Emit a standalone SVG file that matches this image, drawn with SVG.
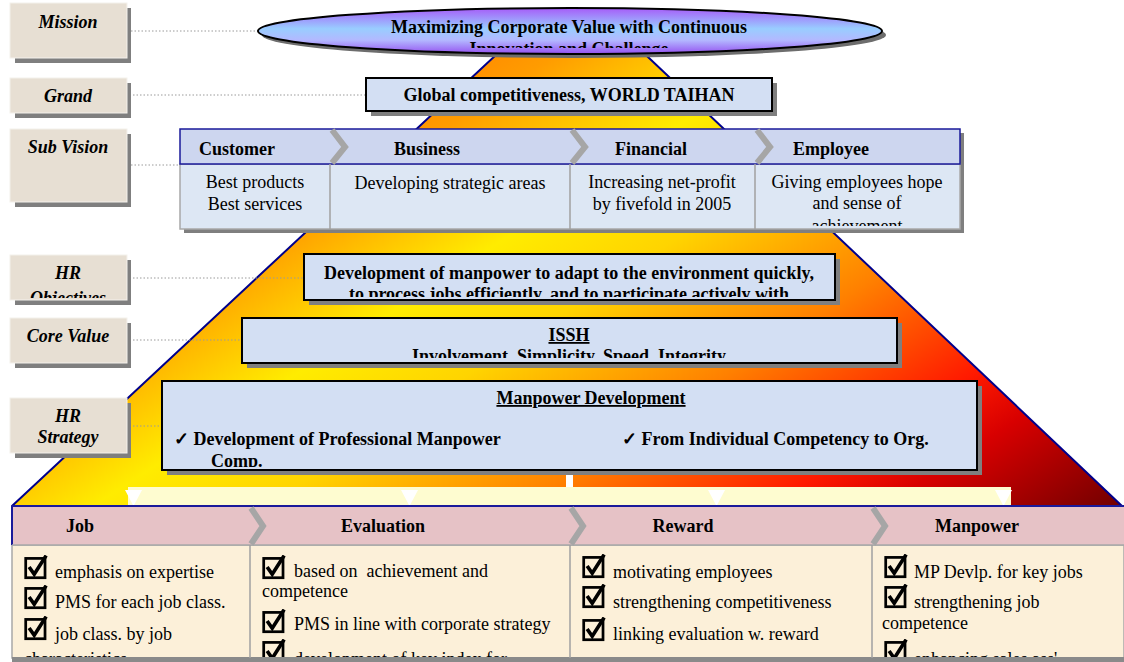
<svg xmlns="http://www.w3.org/2000/svg" width="1124" height="662" viewBox="0 0 1124 662">
<defs>
<style>
.lbl{fill:#e7dfd3;stroke:#f4f1ec;stroke-width:1}
.sh{fill:#7f7f7f}
.lt{font-family:"Liberation Serif",serif;font-size:18px;font-weight:bold;font-style:italic;fill:#000;text-anchor:middle}
.b{font-family:"Liberation Serif",serif;font-size:18px;font-weight:bold;fill:#000}
.r{font-family:"Liberation Serif",serif;font-size:18px;fill:#000}
.c{text-anchor:middle}
.box{fill:#d3dff3;stroke:#000;stroke-width:2}
.dot{stroke:#9a9a9a;stroke-width:1;stroke-dasharray:1.5 2;fill:none}
.chev{fill:none;stroke:#a6a6a6;stroke-width:6;stroke-linejoin:miter}
.div{stroke:#a0a0a0;stroke-width:1.5}
.tri{fill:#fff}
</style>
<linearGradient id="pyr" gradientUnits="userSpaceOnUse" x1="152" y1="234" x2="579" y2="891">
<stop offset="0" stop-color="#ff8400"/>
<stop offset="0.09" stop-color="#ff9c00"/>
<stop offset="0.25" stop-color="#ffec00"/>
<stop offset="0.37" stop-color="#ffd400"/>
<stop offset="0.55" stop-color="#ff8000"/>
<stop offset="0.72" stop-color="#ff1a00"/>
<stop offset="0.8" stop-color="#d80000"/>
<stop offset="0.97" stop-color="#6e0000"/>
</linearGradient>
<linearGradient id="ell" x1="0" y1="0" x2="0" y2="1">
<stop offset="0" stop-color="#a65cf8"/>
<stop offset="0.45" stop-color="#99cdff"/>
<stop offset="0.7" stop-color="#b3b8ff"/>
<stop offset="1" stop-color="#9450f0"/>
</linearGradient>
<symbol id="cb" viewBox="0 0 22 22">
<rect x="1.5" y="3" width="17" height="17" fill="none" stroke="#000" stroke-width="2.4"/>
<path d="M4.5 10.5 L9 17 L19.5 0.5" fill="none" stroke="#000" stroke-width="3.2"/>
</symbol>
<clipPath id="cpObj"><rect x="0" y="250" width="130" height="48"/></clipPath>
<clipPath id="cpEll"><rect x="250" y="0" width="640" height="48"/></clipPath>
<clipPath id="cpSub"><rect x="755" y="164" width="205" height="62"/></clipPath>
<clipPath id="cpHro"><rect x="305" y="255" width="529" height="42"/></clipPath>
<clipPath id="cpCore"><rect x="243" y="319" width="653" height="39"/></clipPath>
<clipPath id="cpStr"><rect x="163" y="382" width="813" height="85"/></clipPath>
<clipPath id="cpBot"><rect x="12" y="545" width="1112" height="112"/></clipPath>
</defs>

<rect width="1124" height="662" fill="#fff"/>

<g id="pyramid">
<polygon points="512,40 630,40 1122,506 12,506" fill="url(#pyr)" stroke="#00008b" stroke-width="2" stroke-linejoin="round"/>
</g>

<g id="connectors">
<line class="dot" x1="131" y1="31" x2="260" y2="31"/>
<line class="dot" x1="133" y1="95" x2="366" y2="95"/>
<line class="dot" x1="131" y1="165" x2="180" y2="165"/>
<line class="dot" x1="133" y1="278" x2="304" y2="278"/>
<line class="dot" x1="133" y1="340" x2="242" y2="340"/>
<line class="dot" x1="133" y1="426" x2="162" y2="426"/>
<rect x="566" y="470" width="7" height="19" fill="#fff"/>
<rect x="128" y="487" width="883" height="19" fill="#fefcd0"/>
<polygon class="tri" points="125,490 142,490 133.5,506"/>
<polygon class="tri" points="401,490 418,490 409.5,506"/>
<polygon class="tri" points="708,490 725,490 716.5,506"/>
<polygon class="tri" points="995,490 1012,490 1003.5,506"/>
</g>

<g id="lbl-mission">
<rect class="sh" x="15" y="8" width="116" height="55"/>
<rect class="lbl" x="10" y="3" width="117" height="55"/>
<text class="lt" x="68" y="28">Mission</text>
</g>
<g id="lbl-grand">
<rect class="sh" x="15" y="83" width="116" height="35"/>
<rect class="lbl" x="10" y="78" width="117" height="35"/>
<text class="lt" x="68" y="102">Grand</text>
</g>
<g id="lbl-subvision">
<rect class="sh" x="15" y="134" width="116" height="73"/>
<rect class="lbl" x="10" y="129" width="117" height="73"/>
<text class="lt" x="68" y="153">Sub Vision</text>
</g>
<g id="lbl-hrobj">
<rect class="sh" x="15" y="260" width="116" height="45"/>
<rect class="lbl" x="10" y="255" width="117" height="45"/>
<text class="lt" x="68" y="279">HR</text>
<text class="lt" x="68" y="304" clip-path="url(#cpObj)">Objectives</text>
</g>
<g id="lbl-core">
<rect class="sh" x="15" y="323" width="116" height="45"/>
<rect class="lbl" x="10" y="318" width="117" height="45"/>
<text class="lt" x="68" y="342">Core Value</text>
</g>
<g id="lbl-strategy">
<rect class="sh" x="15" y="403" width="116" height="55"/>
<rect class="lbl" x="10" y="398" width="117" height="55"/>
<text class="lt" x="68" y="422">HR</text>
<text class="lt" x="68" y="443">Strategy</text>
</g>

<g id="mission">
<ellipse cx="574" cy="35" rx="312" ry="23" fill="#6d6d6d"/>
<ellipse cx="570" cy="31" rx="312" ry="23" fill="url(#ell)" stroke="#000" stroke-width="2"/>
<text class="b c" x="569" y="33">Maximizing Corporate Value with Continuous</text>
<text class="b c" x="569" y="55" clip-path="url(#cpEll)">Innovation and Challenge</text>
</g>

<g id="grand">
<rect class="sh" x="371" y="83" width="406" height="33"/>
<rect class="box" x="366" y="78" width="406" height="33"/>
<text class="b c" x="569" y="101">Global competitiveness, WORLD TAIHAN</text>
</g>

<g id="subvision">
<rect class="sh" x="184" y="133" width="780" height="100"/>
<rect x="180" y="164" width="780" height="65" fill="#dde7f4" stroke="#a8a8a8" stroke-width="1.5"/>
<rect x="180" y="129" width="780" height="35" fill="#cdd6ef" stroke="#1a1a9a" stroke-width="1.5"/>
<line class="div" x1="330" y1="164" x2="330" y2="229"/>
<line class="div" x1="570" y1="164" x2="570" y2="229"/>
<line class="div" x1="755" y1="164" x2="755" y2="229"/>
<polyline class="chev" points="332,130 345,147 332,163"/>
<polyline class="chev" points="572,130 585,147 572,163"/>
<polyline class="chev" points="757,130 770,147 757,163"/>
<text class="b" x="199" y="155">Customer</text>
<text class="b c" x="427" y="155">Business</text>
<text class="b c" x="651" y="155">Financial</text>
<text class="b c" x="831" y="155">Employee</text>
<text class="r c" x="255" y="188">Best products</text>
<text class="r c" x="255" y="210">Best services</text>
<text class="r c" x="450" y="189">Developing strategic areas</text>
<text class="r c" x="662" y="188">Increasing net-profit</text>
<text class="r c" x="662" y="210">by fivefold in 2005</text>
<g clip-path="url(#cpSub)">
<text class="r c" x="857" y="188">Giving employees hope</text>
<text class="r c" x="857" y="209">and sense of</text>
<text class="r c" x="857" y="232">achievement</text>
</g>
</g>

<g id="hr-objectives">
<rect class="sh" x="309" y="259" width="531" height="46"/>
<rect class="box" x="304" y="254" width="531" height="46"/>
<g clip-path="url(#cpHro)">
<text class="b c" x="569" y="279">Development of manpower to adapt to the environment quickly,</text>
<text class="b c" x="569" y="300">to process jobs efficiently, and to participate actively with</text>
</g>
</g>

<g id="core-value">
<rect class="sh" x="247" y="323" width="655" height="45"/>
<rect class="box" x="242" y="318" width="655" height="45"/>
<g clip-path="url(#cpCore)">
<text class="b c" x="569" y="341" text-decoration="underline">ISSH</text>
<text class="b c" x="569" y="362">Involvement, Simplicity, Speed, Integrity</text>
</g>
</g>

<g id="hr-strategy">
<rect class="sh" x="167" y="386" width="815" height="89"/>
<rect class="box" x="162" y="381" width="815" height="89"/>
<g clip-path="url(#cpStr)">
<text class="b c" x="591" y="404" text-decoration="underline">Manpower Development</text>
<text class="b" x="174" y="445">✓ Development of Professional Manpower</text>
<text class="b" x="211" y="467">Comp.</text>
<text class="b" x="622" y="445">✓ From Individual Competency to Org.</text>
</g>
</g>

<g id="bottom">
<rect x="12" y="545" width="1112" height="113" fill="#fcf0d9" stroke="#a8a8a8" stroke-width="1.5"/>
<rect x="12" y="657" width="1112" height="5" fill="#8a8a8a"/>
<rect x="12" y="506" width="1112" height="39" fill="#e6c2c6"/>
<line x1="12" y1="506" x2="1124" y2="506" stroke="#1a1a9a" stroke-width="2"/>
<line x1="12" y1="506" x2="12" y2="545" stroke="#1a1a9a" stroke-width="2"/>
<line x1="12" y1="545" x2="1124" y2="545" stroke="#a8a8a8" stroke-width="1.5"/>
<line class="div" x1="250" y1="545" x2="250" y2="658"/>
<line class="div" x1="570" y1="545" x2="570" y2="658"/>
<line class="div" x1="872" y1="545" x2="872" y2="658"/>
<polyline class="chev" points="251,508 263,526 251,544"/>
<polyline class="chev" points="571,508 583,526 571,544"/>
<polyline class="chev" points="873,508 885,526 873,544"/>
</g>

<g id="col-job">
<text class="b c" x="80" y="532">Job</text>
<g clip-path="url(#cpBot)">
<use href="#cb" x="24" y="555" width="25" height="25"/>
<text class="r" x="55" y="578">emphasis on expertise</text>
<use href="#cb" x="24" y="585" width="25" height="25"/>
<text class="r" x="55" y="608">PMS for each job class.</text>
<use href="#cb" x="24" y="616" width="25" height="25"/>
<text class="r" x="55" y="640">job class. by job</text>
<text class="r" x="24" y="665">characteristics</text>
</g>
</g>

<g id="col-evaluation">
<text class="b c" x="383" y="532">Evaluation</text>
<g clip-path="url(#cpBot)">
<use href="#cb" x="262" y="555" width="25" height="25"/>
<text class="r" x="294" y="577" style="white-space:pre">based on  achievement and</text>
<text class="r" x="262" y="597">competence</text>
<use href="#cb" x="262" y="609" width="25" height="25"/>
<text class="r" x="294" y="630">PMS in line with corporate strategy</text>
<use href="#cb" x="262" y="639" width="25" height="25"/>
<text class="r" x="294" y="665">development of key index for</text>
</g>
</g>

<g id="col-reward">
<text class="b c" x="683" y="532">Reward</text>
<g clip-path="url(#cpBot)">
<use href="#cb" x="582" y="554" width="25" height="25"/>
<text class="r" x="613" y="578">motivating employees</text>
<use href="#cb" x="582" y="584" width="25" height="25"/>
<text class="r" x="613" y="608">strengthening competitiveness</text>
<use href="#cb" x="582" y="617" width="25" height="25"/>
<text class="r" x="613" y="640">linking evaluation w. reward</text>
</g>
</g>

<g id="col-manpower">
<text class="b c" x="977" y="532">Manpower</text>
<g clip-path="url(#cpBot)">
<use href="#cb" x="884" y="554" width="25" height="25"/>
<text class="r" x="914" y="578">MP Devlp. for key jobs</text>
<use href="#cb" x="884" y="584" width="25" height="25"/>
<text class="r" x="914" y="608">strengthening job</text>
<text class="r" x="882" y="629">competence</text>
<use href="#cb" x="884" y="639" width="25" height="25"/>
<text class="r" x="914" y="665">enhancing sales ass'</text>
</g>
</g>
</svg>
